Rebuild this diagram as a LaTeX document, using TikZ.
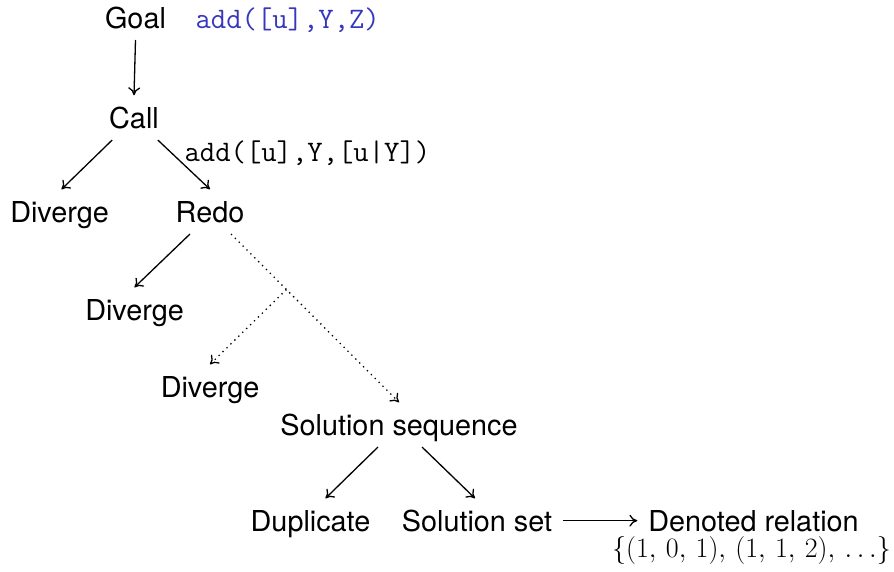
\RequirePackage{fix-cm}
\documentclass[tikz,border=0pt]{standalone}
\usepackage{fontspec}
\setsansfont{TeX Gyre Heros}
\usetikzlibrary{positioning,arrows.meta}

\definecolor{termblue}{RGB}{55,55,190}
\tikzset{every picture/.style={line width=1.3pt}}
\tikzset{
  >={Computer Modern Rightarrow[length=8pt,width=12pt]},
  state/.style={font=\sffamily\fontsize{28.8}{34}\selectfont, text height=20.7pt, text depth=0pt,
    inner sep=0pt, outer xsep=0pt, outer ysep=12pt, anchor=base},
  term/.style={font=\ttfamily\fontsize{29.8}{35}\selectfont, inner sep=0pt, anchor=base west},
  lazy/.style={dash pattern=on 1.3pt off 4.2pt}
}

\begin{document}
\begin{tikzpicture}[x=1pt,y=1pt,yscale=-1,xscale=1]
\useasboundingbox (0,0) rectangle (894,571);

% Text Node
\node[state] (goal) at (135.5,28) {Goal};
% Text Node
\node[term, text=termblue] (goalterm) at (195,28) {add([u],Y,Z)};
% Text Node
\node[state] (call) at (134,128) {Call};
% Text Node
\node[term] (callterm) at (184,161) {add([u],Y,[u|Y])};
% Text Node
\node[state] (div1) at (59.5,222) {Diverge};
% Text Node
\node[state] (redo) at (210,222) {Redo};
% Text Node
\node[state] (div2) at (134.5,320) {Diverge};
% Text Node
\node[state] (div3) at (210,397) {Diverge};
% Text Node
\node[state] (seq) at (399,435) {Solution sequence};
% Text Node
\node[state] (dup) at (310.5,531) {Duplicate};
% Text Node
\node[state] (set) at (477,531) {Solution set};
% Text Node
\node[state] (rel) at (753.5,531) {Denoted relation};
% Text Node
\node[inner sep=0pt, anchor=base] (relset) at (751.5,557) {\fontsize{28}{33}\selectfont $\{(1,\,0,\,1),\,(1,\,1,\,2),\,\ldots\}$};

%Straight Lines
\draw[->] (goal.south) -- (call.north);
\draw[->] ([xshift=3pt]call.south west) -- ([xshift=2pt]div1.north);
\draw[->] ([xshift=-1pt]call.south east) -- (redo.north);
\draw[->] ([xshift=-20pt]redo.south) -- (div2.north);
%Dotted Lines
\draw[->, lazy] ([xshift=21pt]redo.south) -- coordinate[pos=0.33] (fork) (seq.north);
\draw[->, lazy] (fork) -- (div3.north);
%Straight Lines
\draw[->] ([xshift=-21pt]seq.south) -- ([xshift=15pt]dup.north);
\draw[->] ([xshift=23pt]seq.south) -- ([xshift=-2pt]set.north);
\draw[->] ([xshift=11pt]set.east) -- ([xshift=-11pt]rel.west);

\end{tikzpicture}
\end{document}
